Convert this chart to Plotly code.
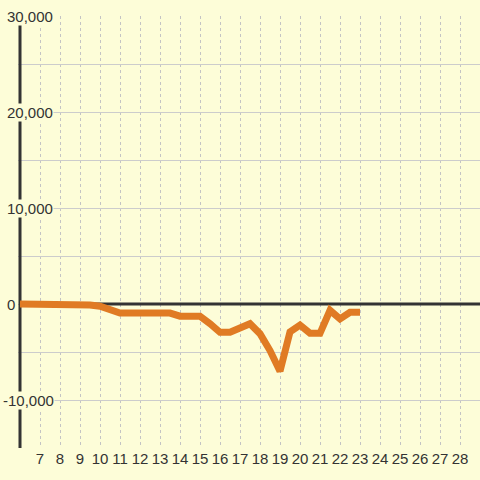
import plotly.graph_objects as go

# ---- data ----
x_points = [6, 6.5, 7, 7.5, 8, 8.5, 9, 9.5, 10, 10.5, 11, 11.5, 12, 12.5, 13, 13.5,
            14, 14.5, 15, 15.5, 16, 16.5, 17, 17.5, 18, 18.5, 19, 19.5, 20, 20.5,
            21, 21.5, 22, 22.5, 23]
y_values = [0, 0, 0, 0, 0, 0, 0, -100, -230, -560, -950, -950, -950, -950, -950, -950,
            -1270, -1270, -1270, -2050, -2950, -2950, -2450, -2050, -3100, -4850, -7000, -2900, -2200, -3050,
            -3050, -650, -1560, -870, -870]
x_ticks = [7, 8, 9, 10, 11, 12, 13, 14, 15, 16, 17, 18, 19, 20, 21, 22, 23, 24, 25, 26, 27, 28]
y_label_vals = [30000, 20000, 10000, 0, -10000]
y_label_text = ["30,000", "20,000", "10,000", "0", "-10,000"]

BG = "#fdfdd8"
FONT = "Liberation Sans, Arial, sans-serif"
DARK = "#333333"

fig = go.Figure()
fig.add_trace(go.Scatter(
    x=x_points, y=y_values, mode="lines",
    line=dict(color="#e07b24", width=7),
    hoverinfo="skip", showlegend=False,
))

fig.update_layout(
    width=480, height=480,
    margin=dict(l=18, r=0, t=16, b=32),
    paper_bgcolor=BG, plot_bgcolor=BG,
    font=dict(family=FONT, size=15, color=DARK),
    xaxis=dict(
        range=[5.9, 29], tickmode="array", tickvals=x_ticks, ticktext=[str(v) for v in x_ticks],
        showgrid=True, gridcolor="#c4c4c4", griddash="3px,3px", gridwidth=1,
        zeroline=False, showline=False, ticks="",
        tickfont=dict(family=FONT, size=15, color=DARK),
    ),
    yaxis=dict(
        range=[-15000, 30000], dtick=5000, tick0=0,
        showgrid=True, gridcolor="#cccccc", gridwidth=1,
        zeroline=False, showline=False, showticklabels=False, ticks="",
    ),
    shapes=[
        dict(type="line", xref="x", yref="y", x0=6, x1=29, y0=0, y1=0,
             line=dict(color=DARK, width=3), layer="between"),
        dict(type="line", xref="x", yref="y", x0=6, x1=6, y0=-15000, y1=30000,
             line=dict(color=DARK, width=3), layer="between"),
    ],
)

for v, t in zip(y_label_vals, y_label_text):
    left_px = 1.5 if t.startswith("-") else 5.5
    fig.add_annotation(
        xref="paper", yref="y", x=(left_px - 18) / 462, y=v,
        xanchor="left", yanchor="middle", text=t, showarrow=False,
        bgcolor=BG, borderpad=0,
        font=dict(family=FONT, size=15, color=DARK),
    )

fig.write_html(
    "out.html",
    config={"displayModeBar": False},
    post_script="document.body.style.margin='0';document.body.style.background='" + BG + "';",
)
